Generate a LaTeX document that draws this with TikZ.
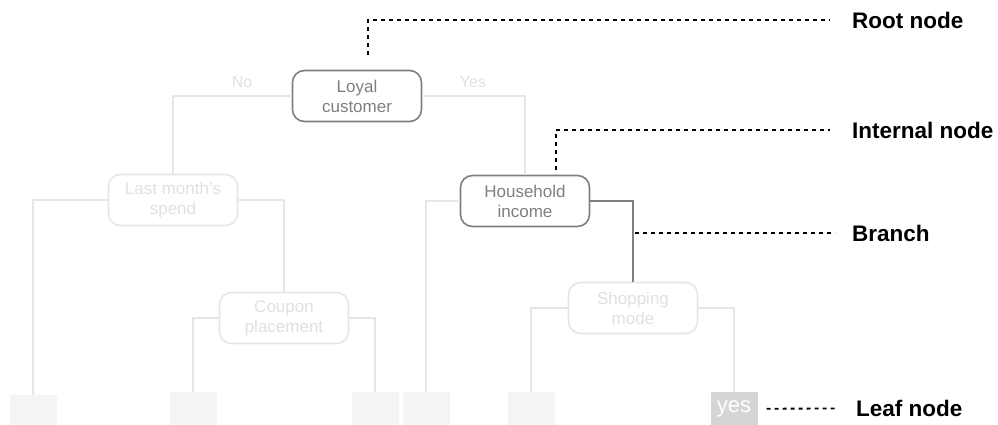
\documentclass[tikz,border=0pt]{standalone}
\usepackage{fontspec}
\setmainfont{Liberation Sans}
\usetikzlibrary{positioning}

\definecolor{faint}{HTML}{E6E6E6}
\definecolor{fainttext}{HTML}{E0E0E0}
\definecolor{midgrey}{HTML}{7F7F7F}
\definecolor{leafgrey}{HTML}{F4F4F4}
\definecolor{yesgrey}{HTML}{D5D5D5}

\begin{document}
\begin{tikzpicture}[x=1pt, y=-1pt,
    split/.style={rectangle, draw=faint, line width=1.6pt, text=fainttext, rounded corners=12pt, minimum width=129pt, minimum height=51pt, align=center, font=\fontsize{17}{20}\selectfont},
    focus/.style={split, draw=midgrey, text=midgrey},
    leaf/.style={rectangle, fill=leafgrey, minimum width=47pt, minimum height=33pt, anchor=north, inner sep=0pt},
    edge/.style={draw=faint, line width=1.6pt},
    answer/.style={font=\fontsize{16}{18}\selectfont, text=fainttext},
    callout/.style={draw=black, line width=1.8pt, dash pattern=on 4pt off 4pt},
    tag/.style={anchor=west, inner sep=0pt, font=\fontsize{22.5}{26}\selectfont\bfseries}
]
\useasboundingbox (0,0) rectangle (998,425);

% Decision nodes
\node[focus] (loyal) at (357,96) {Loyal\\customer};
\node[split] (spend) at (173,200) {Last month's\\spend};
\node[split] (coupon) at (284,318) {Coupon\\placement};
\node[focus] (income) at (525,201) {Household\\income};
\node[split] (shop) at (633,308) {Shopping\\mode};

% Leaves
\node[leaf] (l1) at (33,395) {};
\node[leaf] (l2) at (193,392) {};
\node[leaf] (l3) at (375,392) {};
\node[leaf] (l4) at (426,392) {};
\node[leaf] (l5) at (531,392) {};
\node[leaf, fill=yesgrey, text=white, font=\fontsize{22}{24}\selectfont] (l6) at (734,392) {yes};

% Answers
\node[answer] (no) at (242,82) {No};
\node[answer] (yes) at (473,82) {Yes};

% Branches
\draw[edge] (loyal.west) -| (spend.north);
\draw[edge] (loyal.east) -| (income.north);
\draw[edge] (spend.west) -| (l1.north);
\draw[edge] (spend.east) -| (coupon.north);
\draw[edge] (coupon.west) -| (l2.north);
\draw[edge] (coupon.east) -| (l3.north);
\draw[edge] (income.west) -| (l4.north);
\draw[edge, draw=midgrey] (income.east) -| (shop.north);
\draw[edge] (shop.west) -| (l5.north);
\draw[edge] (shop.east) -| (l6.north);

% Labels on the right
\node[tag] (roottag) at (852,20) {Root node};
\node[tag] (inttag) at (852,130) {Internal node};
\node[tag] (brtag) at (852,233) {Branch};
\node[tag] (leaftag) at (856,408.5) {Leaf node};

\draw[callout, shorten >=22pt] ([xshift=11pt, yshift=15pt]loyal.north) |- (roottag.west);
\draw[callout, shorten >=22pt] ([xshift=31pt, yshift=5pt]income.north) |- (inttag.west);
\draw[callout, shorten <=2pt, shorten >=17pt] (shop.north |- brtag.west) -- (brtag.west);
\draw[callout, shorten <=9pt, shorten >=18pt] (l6.east) -- (leaftag.west);

\end{tikzpicture}
\end{document}
